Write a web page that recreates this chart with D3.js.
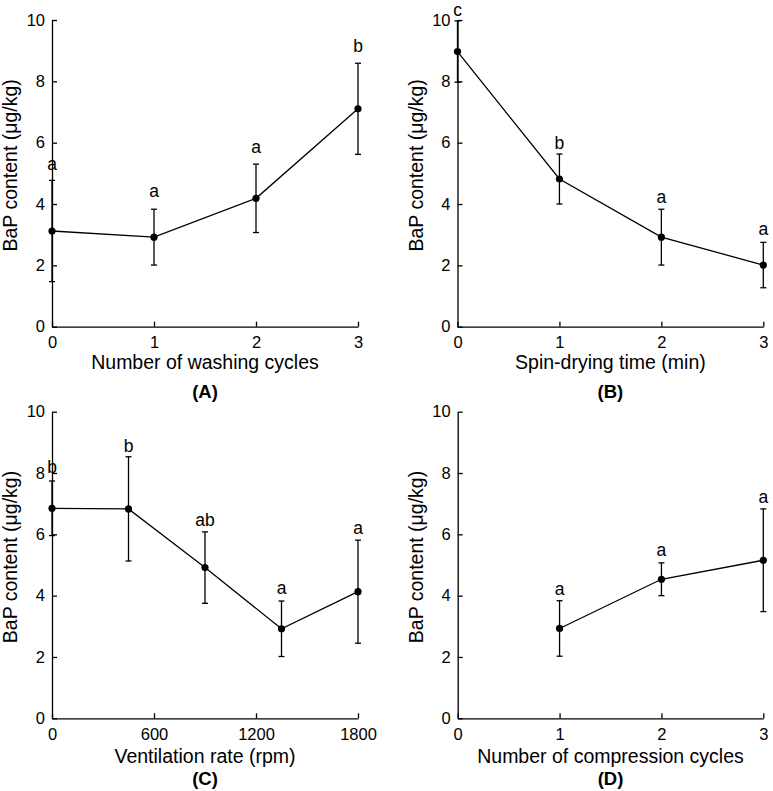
<!DOCTYPE html>
<html><head><meta charset="utf-8">
<script src="https://cdn.jsdelivr.net/npm/d3@7"></script>
<style>
body{margin:0;background:#fff;}
text{font-family:"Liberation Sans",Arial,sans-serif;fill:#000;}
</style></head>
<body><svg id="c" width="773" height="791"></svg>
<script>
// ---- data ----
const yTicks = [0, 2, 4, 6, 8, 10];
const yTitle = "BaP content (\u03bcg/kg)";

const washX = [0, 1, 2, 3];
const washY = [3.12, 2.92, 4.185, 7.105];
const washErr = [1.65, 0.91, 1.115, 1.485];
const washLab = ["a", "a", "a", "b"];
const washLabY = [5.11, 4.24, 5.65, 8.95];
const washTicks = [0, 1, 2, 3];

const spinX = [0, 1, 2, 3];
const spinY = [8.97, 4.815, 2.92, 2.01];
const spinErr = [1.0, 0.815, 0.91, 0.74];
const spinLab = ["c", "b", "a", "a"];
const spinLabY = [10.13, 5.79, 4.04, 2.99];
const spinTicks = [0, 1, 2, 3];

const ventX = [0, 450, 900, 1350, 1800];
const ventY = [6.85, 6.83, 4.915, 2.92, 4.13];
const ventErr = [0.89, 1.70, 1.165, 0.905, 1.68];
const ventLab = ["b", "b", "ab", "a", "a"];
const ventLabY = [7.99, 8.69, 6.28, 4.05, 6.01];
const ventTicks = [0, 600, 1200, 1800];

const compX = [1, 2, 3];
const compY = [2.93, 4.535, 5.155];
const compErr = [0.905, 0.535, 1.675];
const compLab = ["a", "a", "a"];
const compLabY = [4.02, 5.30, 7.01];
const compTicks = [0, 1, 2, 3];

const panels = [
  {x: washX, y: washY, e: washErr, lab: washLab, labY: washLabY, ticks: washTicks, xmax: 3,
   xt: "Number of washing cycles", name: "(A)", left: 52, right: 358, top: 20, bottom: 326.7, titleY: 369, nameY: 398},
  {x: spinX, y: spinY, e: spinErr, lab: spinLab, labY: spinLabY, ticks: spinTicks, xmax: 3,
   xt: "Spin-drying time (min)", name: "(B)", left: 457.5, right: 763.3, top: 20, bottom: 326.7, titleY: 369, nameY: 398},
  {x: ventX, y: ventY, e: ventErr, lab: ventLab, labY: ventLabY, ticks: ventTicks, xmax: 1800,
   xt: "Ventilation rate (rpm)", name: "(C)", left: 52, right: 358, top: 411.7, bottom: 718.3, titleY: 763, nameY: 784.5},
  {x: compX, y: compY, e: compErr, lab: compLab, labY: compLabY, ticks: compTicks, xmax: 3,
   xt: "Number of compression cycles", name: "(D)", left: 457.7, right: 763.3, top: 411.7, bottom: 718.3, titleY: 763, nameY: 784.5}
];

const svg = d3.select("#c");
const FS = 16.5;
const TFS = 19.5;

panels.forEach(p => {
  const xs = d3.scaleLinear().domain([0, p.xmax]).range([p.left, p.right]);
  const ys = d3.scaleLinear().domain([0, 10]).range([p.bottom, p.top]);
  const g = svg.append("g");

  const ya = g.append("g").attr("transform", `translate(${p.left},0)`)
    .call(d3.axisLeft(ys).tickValues(yTicks).tickFormat(d3.format("d"))
      .tickSizeInner(-5).tickSizeOuter(0).tickPadding(7));
  const xa = g.append("g").attr("transform", `translate(0,${p.bottom})`)
    .call(d3.axisBottom(xs).tickValues(p.ticks).tickFormat(d3.format("d"))
      .tickSizeInner(-5).tickSizeOuter(0).tickPadding(10));
  [ya, xa].forEach(a => {
    a.select(".domain").attr("stroke", "#000").attr("stroke-width", 1.3);
    a.selectAll(".tick line").attr("stroke", "#000").attr("stroke-width", 1.3);
    a.selectAll(".tick text").attr("font-size", FS).attr("fill", "#000")
      .style("font-family", '"Liberation Sans",Arial,sans-serif');
  });

  g.append("text").attr("x", (p.left + p.right) / 2).attr("y", p.titleY)
    .attr("text-anchor", "middle").attr("font-size", TFS).text(p.xt);
  g.append("text")
    .attr("transform", `translate(${p.left - 35},${(p.top + p.bottom) / 2 - 8}) rotate(-90)`)
    .attr("text-anchor", "middle").attr("font-size", TFS).text(yTitle);
  g.append("text").attr("x", (p.left + p.right) / 2).attr("y", p.nameY)
    .attr("text-anchor", "middle").attr("font-size", 18.5).attr("font-weight", "bold").text(p.name);

  const pts = p.x.map((v, i) => ({x: v, y: p.y[i], e: p.e[i], lab: p.lab[i], ly: p.labY[i]}));

  const eb = g.selectAll(".eb").data(pts).enter().append("g");
  eb.append("line").attr("x1", d => xs(d.x)).attr("x2", d => xs(d.x))
    .attr("y1", d => ys(d.y - d.e)).attr("y2", d => ys(d.y + d.e))
    .attr("stroke", "#000").attr("stroke-width", 1.3);
  [-1, 1].forEach(s => {
    eb.append("line").attr("x1", d => xs(d.x) - 3).attr("x2", d => xs(d.x) + 3)
      .attr("y1", d => ys(d.y + s * d.e)).attr("y2", d => ys(d.y + s * d.e))
      .attr("stroke", "#000").attr("stroke-width", 1.3);
  });

  g.append("path").datum(pts)
    .attr("d", d3.line().x(d => xs(d.x)).y(d => ys(d.y)))
    .attr("fill", "none").attr("stroke", "#000").attr("stroke-width", 1.3);

  g.selectAll(".pt").data(pts).enter().append("circle")
    .attr("cx", d => xs(d.x)).attr("cy", d => ys(d.y)).attr("r", 3.6).attr("fill", "#000");

  g.selectAll(".lab").data(pts).enter().append("text")
    .attr("x", d => xs(d.x)).attr("y", d => ys(d.ly))
    .attr("text-anchor", "middle").attr("font-size", 17.5).text(d => d.lab);
});
</script></body></html>
